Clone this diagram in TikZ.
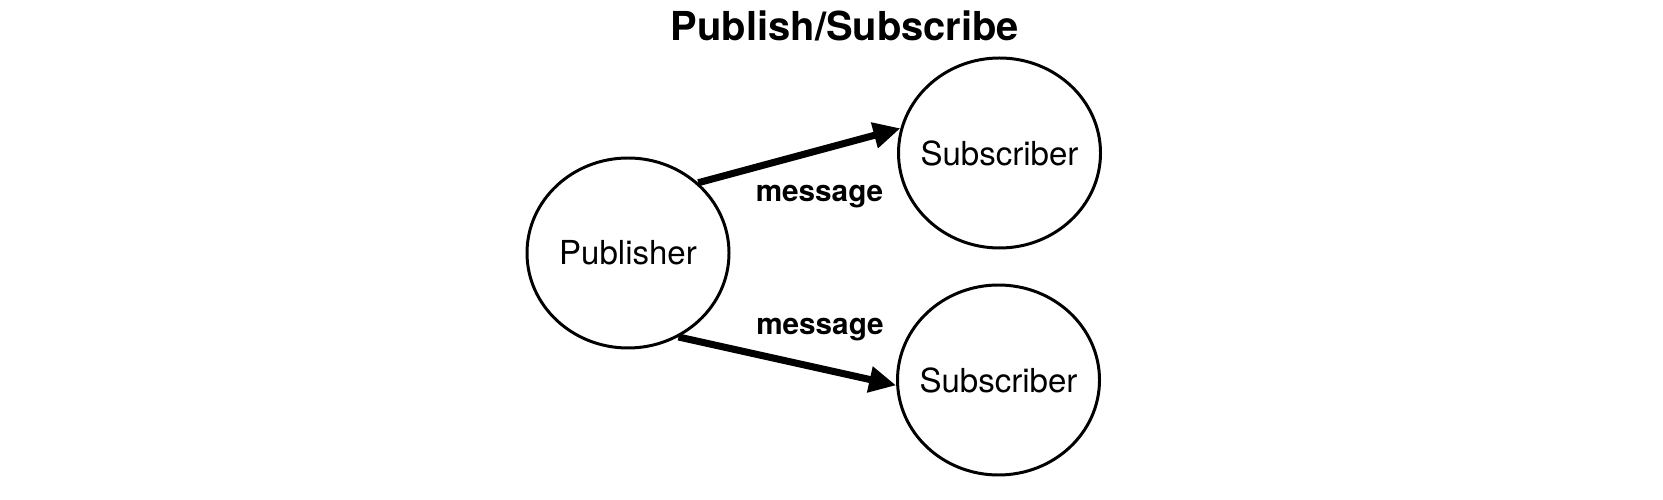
\documentclass[tikz,border=0pt]{standalone}
\usepackage{fontspec}
\setmainfont{TeX Gyre Heros}
\usetikzlibrary{shapes.geometric, arrows.meta}
\tikzset{party/.style={ellipse, draw, line width=1.7pt, minimum width=4.04cm, minimum height=3.8cm, inner xsep=-0.3cm, inner ysep=0pt, font=\fontsize{18.8}{22}\selectfont},
         msg/.style={anchor=base, font=\bfseries\fontsize{16.9}{20}\selectfont},
         flow/.style={line width=4pt, -{Triangle[length=0.54cm, width=0.5cm]}},}

\begin{document}
\begin{tikzpicture}
        \useasboundingbox (0,0) rectangle (33.26,-10);
        \node[anchor=base, font=\bfseries\fontsize{22.7}{27}\selectfont] (title) at (16.9,-0.82) {Publish/Subscribe};
        \node[party] (pub) at (12.56,-5.06) {Publisher};
        \node[party] (subtop) at (19.99,-3.06) {Subscriber};
        \node[party] (subbot) at (19.97,-7.6) {Subscriber};
        \node[msg] (msgtop) at (16.39,-4.04) {message};
        \node[msg] (msgbot) at (16.4,-6.7) {message};
        
        \draw[flow] (pub.45) -- (subtop.166);
        \draw[flow] (pub.-59) -- (subbot.183);
    \end{tikzpicture}
\end{document}
